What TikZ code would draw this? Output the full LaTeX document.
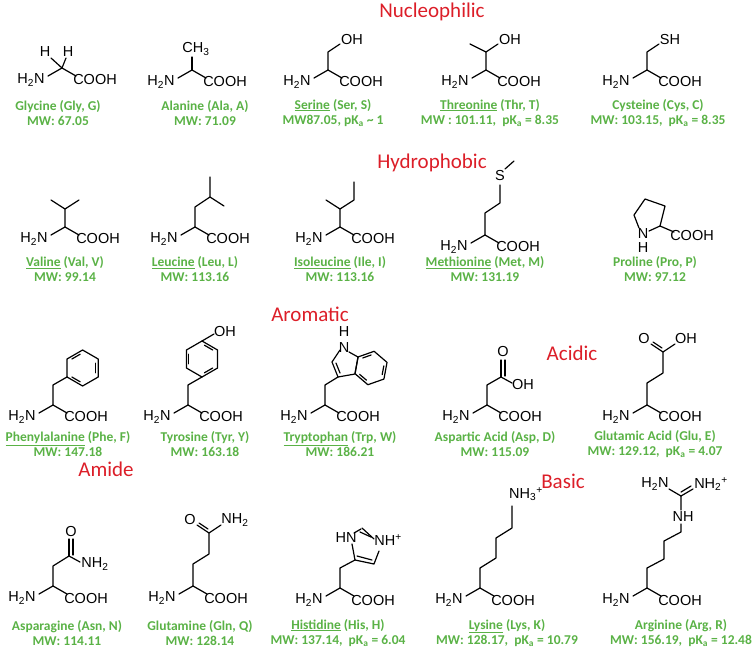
\documentclass[tikz,border=0pt]{standalone}
\usepackage{fontspec}
\setmainfont{Carlito}
\newfontfamily\chemfam{Liberation Sans}
\definecolor{aagreen}{RGB}{90,178,70}
\definecolor{aared}{RGB}{220,30,40}
\tikzset{
  atom/.style = {font=\chemfam\fontsize{14.5}{14.5}\selectfont, inner sep=0pt},
  lab/.style = {font=\bfseries\fontsize{13.5}{15.5}\selectfont, text=aagreen, align=center},
  head/.style = {font=\fontsize{21}{21}\selectfont, text=aared},
  bond/.style = {line width=1.2pt, line cap=round, line join=round},
}
% backbone H2N-CH-COOH around the alpha carbon at (0,0)
\newcommand\backbone{%
  \node[atom] (amine) at (-31,-12) {H\textsubscript{2}N};
  \node[atom] (acid) at (33,-12) {COOH};
  \draw[bond] (-14,-8) -- (0,0) -- (14,-8);}
% benzene ring: center, start angle, radius
\newcommand\benz[3]{%
  \begin{scope}[shift={#1}]
    \draw[bond] (#2:#3) \foreach \k in {1,...,5}{ -- ({#2+\k*60}:#3)} -- cycle;
    \foreach \k in {0,2,4} \draw[bond] ({#2+\k*60+10}:#3-4) -- ({#2+\k*60+50}:#3-4);
  \end{scope}}
\begin{document}
\begin{tikzpicture}[x=1pt,y=1pt]
\useasboundingbox (0,0) rectangle (755,-651);
% headings
\node[head] (hnuc) at (432,-12) {Nucleophilic};
\node[head] (hhyd) at (432,-163) {Hydrophobic};
\node[head] (haro) at (310,-314) {Aromatic};
\node[head] (hacd) at (572,-353) {Acidic};
\node[head] (hami) at (106,-469) {Amide};
\node[head] (hbas) at (563,-481) {Basic};

%Row 1: nucleophilic
\begin{scope}[shift={(62,-68)}] % glycine
  \backbone
  \node[atom] (h1) at (-17,16) {H}; \node[atom] (h2) at (6,16) {H};
  \draw[bond] (-11,10) -- (0,0) -- (4,10);
\end{scope}
\begin{scope}[shift={(192,-70)}] % alanine
  \backbone
  \draw[bond] (0,0) -- (0,13);
  \node[atom] (me) at (4,21) {CH\textsubscript{3}};
\end{scope}
\begin{scope}[shift={(328,-70)}] % serine
  \backbone
  \draw[bond] (0,0) -- (0,18) -- (12,26);
  \node[atom] (oh) at (24,30) {OH};
\end{scope}
\begin{scope}[shift={(486,-70)}] % threonine
  \backbone
  \draw[bond] (0,0) -- (0,18) -- (-16,26);
  \draw[bond] (0,18) -- (12,26);
  \node[atom] (oh) at (24,30) {OH};
\end{scope}
\begin{scope}[shift={(647,-70)}] % cysteine
  \backbone
  \draw[bond] (0,0) -- (0,18) -- (12,26);
  \node[atom] (sh) at (23,30) {SH};
\end{scope}
\node[lab] (gly) at (58,-113) {Glycine (Gly, G)\\MW: 67.05};
\node[lab] (ala) at (205,-113) {Alanine (Ala, A)\\MW: 71.09};
\node[lab] (ser) at (333,-113) {\underline{Serine} (Ser, S)\\MW87.05, pK\textsubscript{a} \textasciitilde{} 1};
\node[lab] (thr) at (490,-113) {\underline{Threonine} (Thr, T)\\MW : 101.11,\ \ pK\textsubscript{a} = 8.35};
\node[lab] (cys) at (658,-113) {Cysteine (Cys, C)\\MW: 103.15,\ \ pK\textsubscript{a} = 8.35};

%Row 2: hydrophobic
\begin{scope}[shift={(65,-227)}] % valine
  \backbone
  \draw[bond] (0,0) -- (0,18) -- (-14,27);
  \draw[bond] (0,18) -- (14,27);
\end{scope}
\begin{scope}[shift={(195,-227)}] % leucine
  \backbone
  \draw[bond] (0,0) -- (0,20) -- (15,30) -- (15,50);
  \draw[bond] (15,30) -- (29,21);
\end{scope}
\begin{scope}[shift={(340,-227)}] % isoleucine
  \backbone
  \draw[bond] (0,0) -- (0,18) -- (-14,27);
  \draw[bond] (0,18) -- (14,27) -- (14,45);
\end{scope}
\begin{scope}[shift={(485,-235)}] % methionine
  \backbone
  \draw[bond] (0,0) -- (0,22) -- (15,32) -- (15,50);
  \node[atom] (s) at (15,59) {S};
  \draw[bond] (20,66) -- (29,74);
\end{scope}
\begin{scope}[shift={(660,-226)}] % proline
  \node[atom] (acid) at (32,-10) {COOH};
  \node[atom] (n) at (-17,-8) {N};
  \node[atom] (nh) at (-17,-22) {H};
  \draw[bond] (14,-6) -- (0,0) -- (-11,-5);
  \draw[bond] (0,0) -- (5,20) -- (-15,27) -- (-26,11) -- (-21,-2);
\end{scope}
\node[lab] (val) at (65,-269) {\underline{Valine} (Val, V)\\MW: 99.14};
\node[lab] (leu) at (195,-269) {\underline{Leucine} (Leu, L)\\MW: 113.16};
\node[lab] (ile) at (340,-269) {\underline{Isoleucine} (Ile, I)\\MW: 113.16};
\node[lab] (met) at (485,-269) {\underline{Methionine} (Met, M)\\MW: 131.19};
\node[lab] (pro) at (655,-269) {Proline (Pro, P)\\MW: 97.12};

%Row 3: aromatic and acidic
\begin{scope}[shift={(53,-405)}] % phenylalanine
  \backbone
  \draw[bond] (0,0) -- (0,20) -- (14,28);
  \benz{(29.6,37)}{210}{18}
\end{scope}
\begin{scope}[shift={(188,-405)}] % tyrosine
  \backbone
  \draw[bond] (0,0) -- (0,20) -- (14,28);
  \benz{(14,46)}{270}{18}
  \draw[bond] (14,64) -- (26,71);
  \node[atom] (oh) at (37,73) {OH};
\end{scope}
\begin{scope}[shift={(325,-405)}] % tryptophan
  \backbone
  \draw[bond] (0,0) -- (0,20) -- (13,28);
  \draw[bond] (13,28) -- (30,31) -- (33,48) -- (24,53);
  \draw[bond] (15,55) -- (7,43) -- (13,28);
  \draw[bond] (11,42) -- (15,32);
  \node[atom] (n) at (19,57) {N};
  \node[atom] (h) at (19,73) {H};
  \benz{(46,37)}{199.4}{17}
\end{scope}
\begin{scope}[shift={(487,-405)}] % aspartic acid
  \backbone
  \draw[bond] (0,0) -- (0,20) -- (14,28) -- (25,22);
  \draw[bond] (14,28) -- (14,45);
  \draw[bond] (18,29) -- (18,45);
  \node[atom] (o) at (16,53) {O};
  \node[atom] (oh) at (36,20) {OH};
\end{scope}
\begin{scope}[shift={(647,-405)}] % glutamic acid
  \backbone
  \draw[bond] (0,0) -- (0,22) -- (16,32) -- (16,53) -- (28,61);
  \draw[bond] (16,53) -- (4,61);
  \draw[bond] (15,57) -- (6,63);
  \node[atom] (o) at (-3,66) {O};
  \node[atom] (oh) at (39,66) {OH};
\end{scope}
\node[lab] (phe) at (68,-444) {\underline{Phenylalanine} (Phe, F)\\MW: 147.18};
\node[lab] (tyr) at (205,-444) {Tyrosine (Tyr, Y)\\MW: 163.18};
\node[lab] (trp) at (340,-444) {\underline{Tryptophan} (Trp, W)\\MW: 186.21};
\node[lab] (asp) at (495,-444) {Aspartic Acid (Asp, D)\\MW: 115.09};
\node[lab] (glu) at (655,-444) {Glutamic Acid (Glu, E)\\MW: 129.12,\ \ pK\textsubscript{a} = 4.07};

%Row 4: amide and basic
\begin{scope}[shift={(53,-586)}] % asparagine
  \backbone
  \draw[bond] (0,0) -- (0,20) -- (16,30) -- (27,24);
  \draw[bond] (16,30) -- (16,47);
  \draw[bond] (20,31) -- (20,47);
  \node[atom] (o) at (18,55) {O};
  \node[atom] (nh2) at (42,22) {NH\textsubscript{2}};
\end{scope}
\begin{scope}[shift={(193,-586)}] % glutamine
  \backbone
  \draw[bond] (0,0) -- (0,22) -- (16,32) -- (16,53) -- (28,61);
  \draw[bond] (16,53) -- (4,61);
  \draw[bond] (15,57) -- (6,63);
  \node[atom] (o) at (-3,66) {O};
  \node[atom] (nh2) at (42,66) {NH\textsubscript{2}};
\end{scope}
\begin{scope}[shift={(340,-588)}] % histidine
  \backbone
  \draw[bond] (0,0) -- (0,20) -- (15,28);
  \draw[bond] (15,28) -- (12,44);
  \draw[bond] (15,28) -- (34,24) -- (39,37);
  \draw[bond] (17,32) -- (32,28);
  \draw[bond] (20,56) -- (31,51);
  \draw[bond] (22,60) -- (34,49);
  \node[atom] (hn) at (6,50) {HN};
  \node[atom] (nhp) at (48,48) {NH\textsuperscript{+}};
  \draw[bond] (14,55) -- (21,59);
\end{scope}
\begin{scope}[shift={(480,-588)}] % lysine
  \backbone
  \draw[bond] (0,0) -- (0,20) -- (16,30) -- (16,50) -- (32,60) -- (32,82);
  \node[atom] (nh3) at (46,94) {NH\textsubscript{3}\textsuperscript{+}};
\end{scope}
\begin{scope}[shift={(647,-588)}] % arginine
  \backbone
  \draw[bond] (0,0) -- (0,20) -- (17,29) -- (17,47) -- (34,56) -- (34,64);
  \node[atom] (nh) at (36,71) {NH};
  \draw[bond] (34,78) -- (34,92) -- (22,99);
  \draw[bond] (34,92) -- (46,99);
  \draw[bond] (34,96) -- (44,102);
  \node[atom] (h2n) at (8,104) {H\textsubscript{2}N};
  \node[atom] (nh2) at (64,104) {NH\textsubscript{2}\textsuperscript{+}};
\end{scope}
\node[lab] (asn) at (67,-633) {Asparagine (Asn, N)\\MW: 114.11};
\node[lab] (gln) at (200,-633) {Glutamine (Gln, Q)\\MW: 128.14};
\node[lab] (his) at (338,-633) {\underline{Histidine} (His, H)\\MW: 137.14,\ \ pK\textsubscript{a} = 6.04};
\node[lab] (lys) at (507,-633) {\underline{Lysine} (Lys, K)\\MW: 128.17,\ \ pK\textsubscript{a} = 10.79};
\node[lab] (arg) at (681,-633) {Arginine (Arg, R)\\MW: 156.19,\ \ pK\textsubscript{a} = 12.48};
\end{tikzpicture}
\end{document}
